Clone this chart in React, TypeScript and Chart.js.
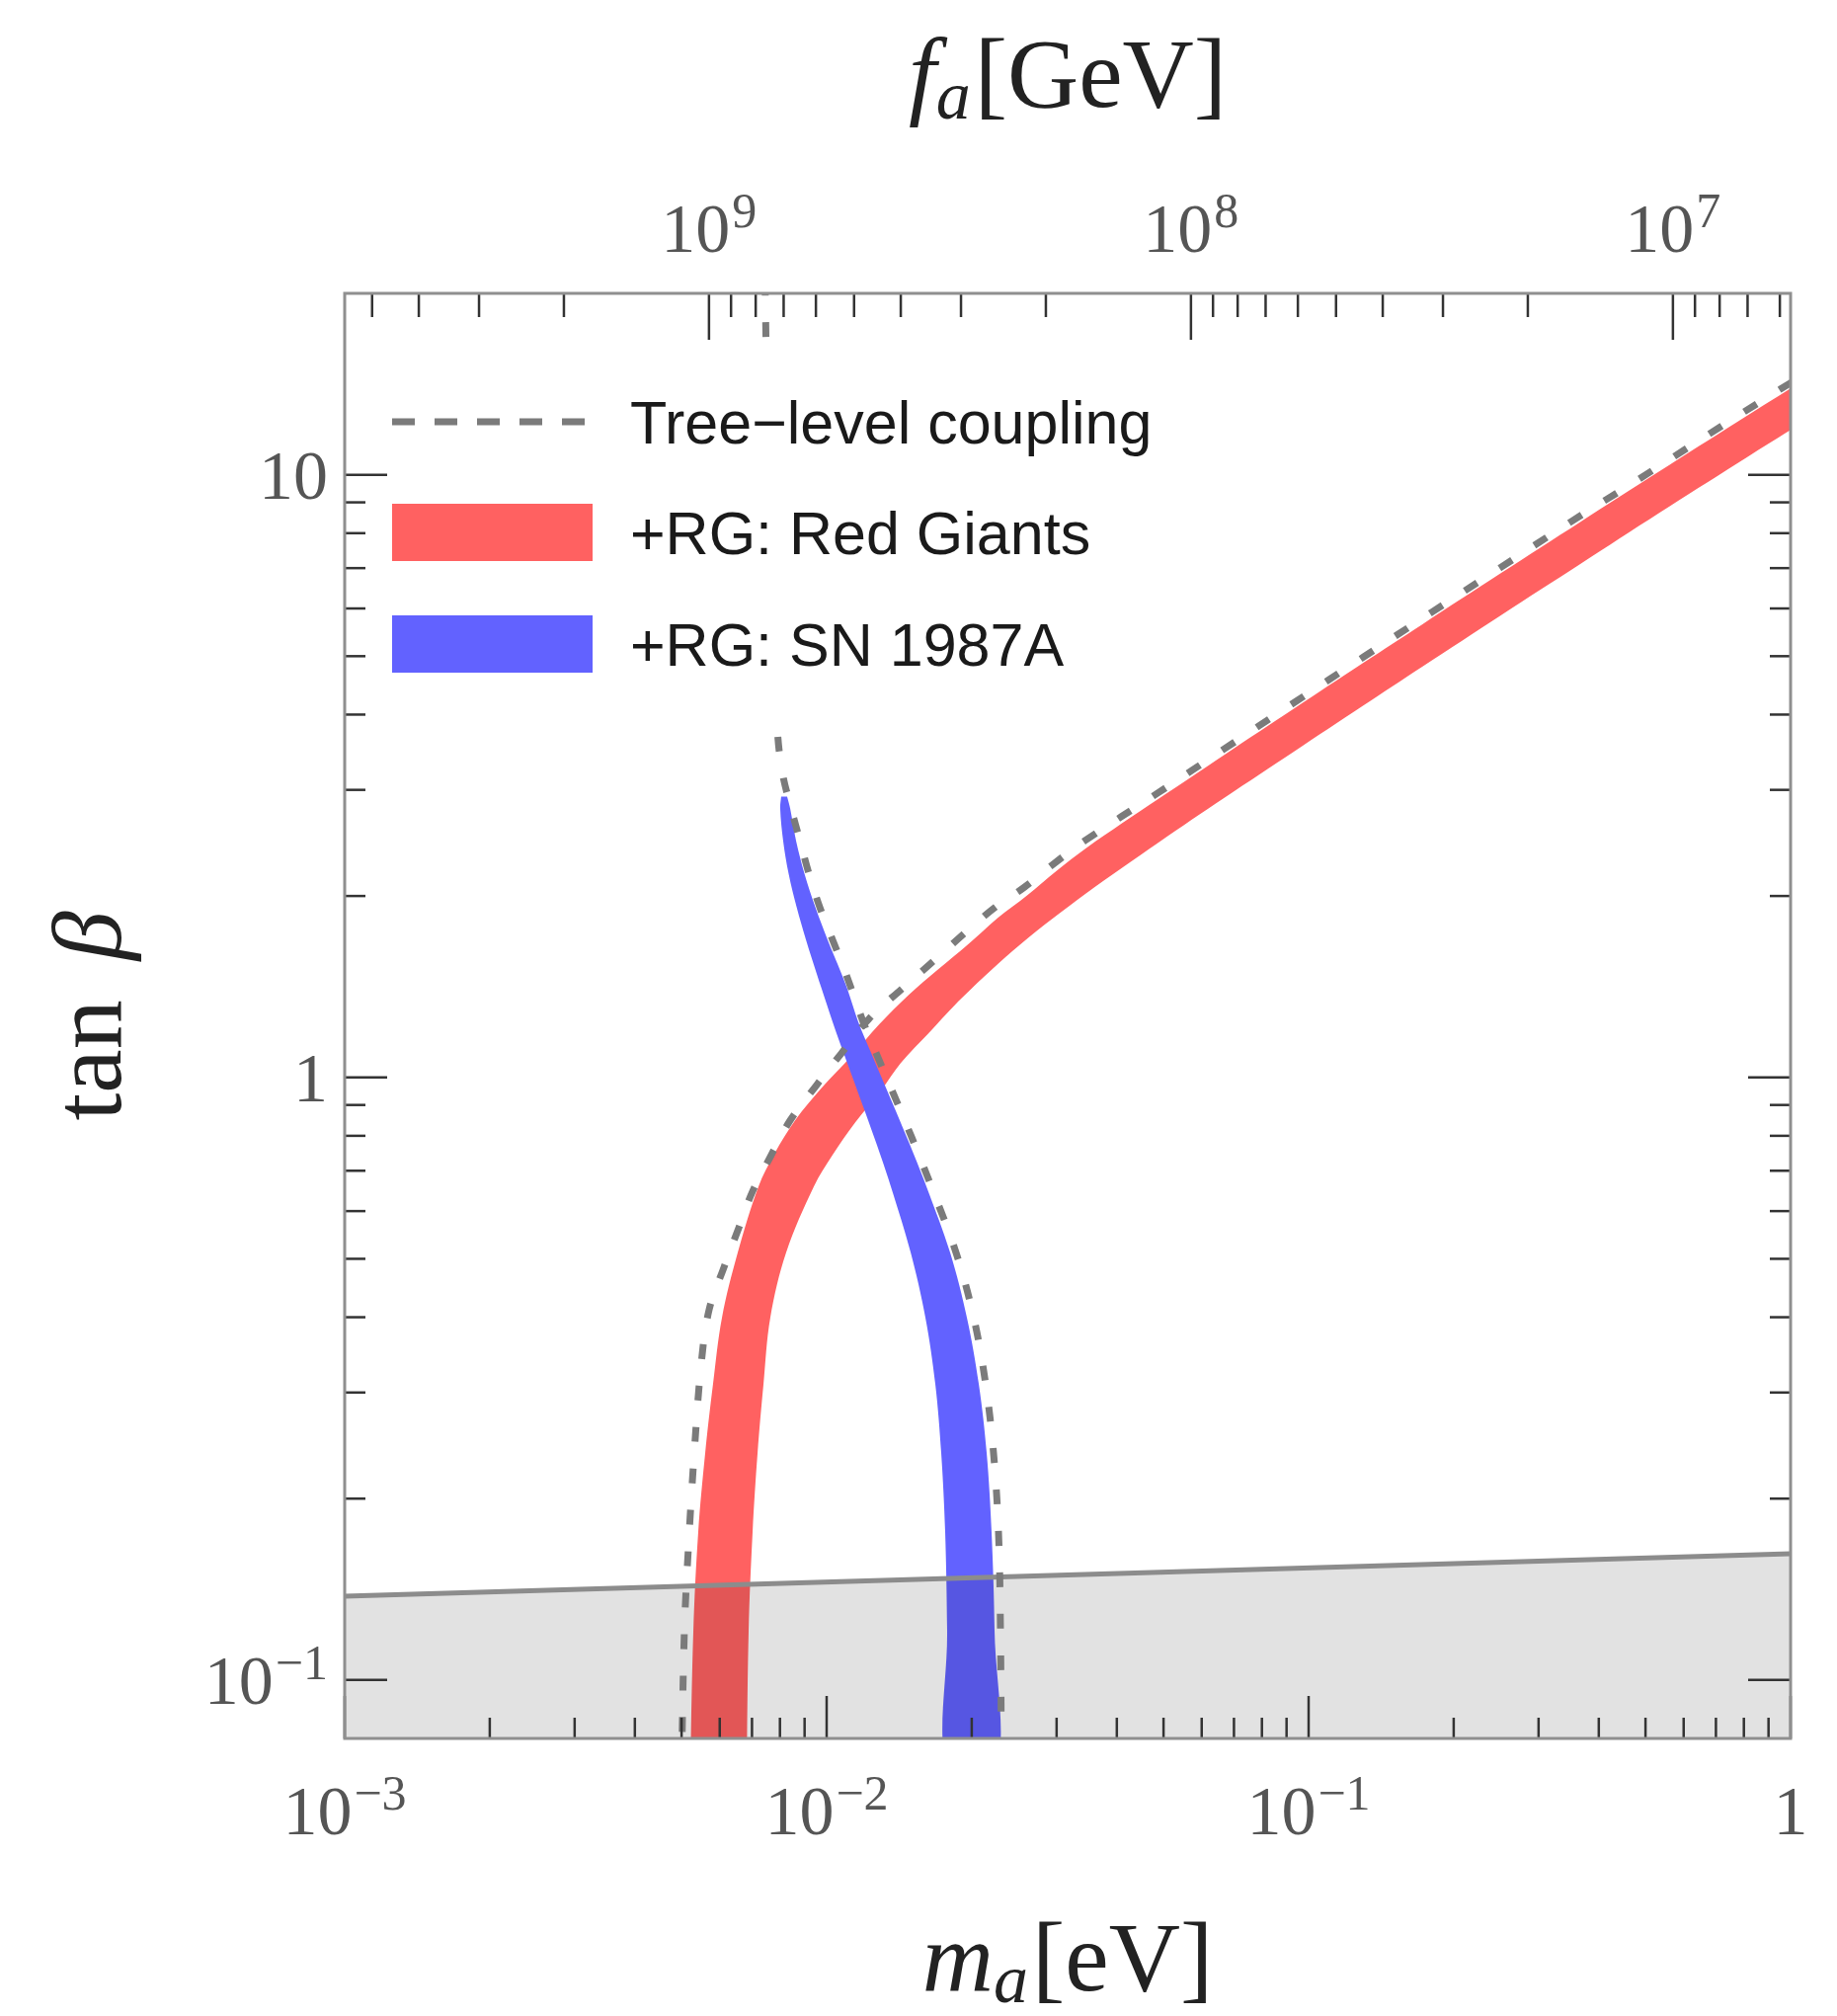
import React, { useEffect, useRef } from 'react';
import { Chart, registerables } from 'chart.js';

Chart.register(...registerables);

// ---------- data (m_a in eV, tan beta) ----------
const RED_BAND_OUTER: [number, number][] = [
  [0.00521, 0.07], [0.00529, 0.1208], [0.005415, 0.1761], [0.005598, 0.238],
  [0.005812, 0.31], [0.006065, 0.3993], [0.00654, 0.5121], [0.007222, 0.6592],
  [0.007789, 0.7465], [0.008601, 0.8487], [0.009768, 0.9612], [0.011252, 1.0844],
  [0.012842, 1.2235], [0.0148, 1.37], [0.017047, 1.5113], [0.019634, 1.661],
  [0.022619, 1.8386], [0.026061, 2.0053], [0.030026, 2.2034], [0.034584, 2.4033],
  [0.04881, 2.898], [0.06696, 3.433], [0.093176, 4.091], [0.129642, 4.87],
  [0.172067, 5.646], [0.25097, 6.871], [0.36616, 8.348], [0.53394, 10.125],
  [0.7788, 12.265], [1.0, 13.908], [1.15, 14.88],
];
const RED_BAND_INNER: [number, number][] = [
  [1.15, 12.69], [1.0, 11.87], [0.7788, 10.47], [0.53394, 8.643], [0.36616, 7.111],
  [0.25097, 5.852], [0.17207, 4.802], [0.12964, 4.137], [0.09318, 3.472],
  [0.06696, 2.913], [0.04881, 2.454], [0.034584, 2.021], [0.025213, 1.661],
  [0.019178, 1.36], [0.016262, 1.183], [0.014245, 1.056], [0.012963, 0.9504],
  [0.011468, 0.8424], [0.010287, 0.7436], [0.009406, 0.6592], [0.008241, 0.5121],
  [0.00764, 0.3993], [0.007396, 0.31], [0.007189, 0.238], [0.00702, 0.1761],
  [0.006889, 0.1208], [0.006823, 0.07],
];
const BLUE_BAND_LEFT: [number, number][] = [
  [0.008047, 2.924], [0.00801, 2.795], [0.008125, 2.468], [0.008339, 2.179],
  [0.008663, 1.917], [0.00906, 1.692], [0.009517, 1.494], [0.009768, 1.402],
  [0.010287, 1.237], [0.010886, 1.0885], [0.011523, 0.9612], [0.012193, 0.8487],
  [0.012904, 0.7465], [0.013589, 0.6592], [0.01494, 0.5121], [0.01603, 0.3993],
  [0.016804, 0.31], [0.017287, 0.238], [0.017617, 0.1761], [0.017783, 0.1208],
  [0.017865, 0.07],
];
const BLUE_BAND_RIGHT: [number, number][] = [
  [0.022406, 0.07], [0.022303, 0.1208], [0.021987, 0.1761], [0.021478, 0.238],
  [0.020682, 0.31], [0.019543, 0.3993], [0.018035, 0.5121], [0.016106, 0.6592],
  [0.015151, 0.7465], [0.014179, 0.8487], [0.013274, 0.9612], [0.012425, 1.0885],
  [0.011628, 1.237], [0.011041, 1.402], [0.010708, 1.494], [0.010046, 1.692],
  [0.009471, 1.917], [0.008994, 2.179], [0.008643, 2.468], [0.008401, 2.795],
  [0.008279, 2.924],
];
const RED_TREE_LEVEL: [number, number][] = [
  [0.004997, 0.07], [0.005068, 0.1208], [0.005164, 0.1651], [0.005312, 0.238],
  [0.005491, 0.3343], [0.005703, 0.4115], [0.006122, 0.4838], [0.00657, 0.5626],
  [0.00702, 0.6469], [0.00764, 0.7381], [0.008401, 0.8487], [0.009539, 0.9721],
  [0.010733, 1.0967], [0.012249, 1.2515], [0.01431, 1.4018], [0.016804, 1.569],
  [0.019361, 1.7378], [0.022406, 1.9171], [0.025692, 2.0667], [0.029601, 2.2623],
  [0.034258, 2.4678], [0.04881, 2.969], [0.06696, 3.512], [0.09318, 4.184],
  [0.12964, 4.977], [0.18034, 5.919], [0.25097, 7.028], [0.34914, 8.345],
  [0.48584, 9.849], [0.67576, 11.67], [0.95389, 13.88], [1.15, 15.19],
];
const SN_TREE_LEVEL: [number, number][] = [
  [0.00745, 21], [0.007534, 12.49], [0.007677, 7.096], [0.007898, 3.808],
  [0.008087, 3.214], [0.008439, 2.795], [0.008807, 2.468], [0.009186, 2.179],
  [0.009676, 1.917], [0.010287, 1.692], [0.010936, 1.494], [0.011904, 1.237],
  [0.012722, 1.0885], [0.013589, 0.9612], [0.014516, 0.8487], [0.015506, 0.7465],
  [0.016489, 0.6592], [0.018554, 0.5121], [0.020197, 0.3993], [0.021375, 0.31],
  [0.022196, 0.238], [0.022728, 0.1761], [0.022943, 0.1208], [0.023049, 0.07],
];
const EXCLUDED_EDGE: [number, number][] = [[0.001, 0.1377], [1, 0.162]];

// axes
const X_MIN = 0.001;
const X_MAX = 1;
const Y_MIN = 0.08;
const Y_MAX = 20;
const FA_TIMES_MA = 5.7e6; // GeV * eV
const X_MAJOR = [0.001, 0.01, 0.1, 1];
const X_MINOR = [0.002, 0.003, 0.004, 0.005, 0.006, 0.007, 0.008, 0.009,
  0.02, 0.03, 0.04, 0.05, 0.06, 0.07, 0.08, 0.09,
  0.2, 0.3, 0.4, 0.5, 0.6, 0.7, 0.8, 0.9];
const X_TICK_LABELS = ['10^−3', '10^−2', '10^−1', '1'];
const Y_MAJOR = [0.1, 1, 10];
const Y_MINOR = [0.2, 0.3, 0.4, 0.5, 0.6, 0.7, 0.8, 0.9, 2, 3, 4, 5, 6, 7, 8, 9];
const Y_TICK_LABELS = ['10^−1', '1', '10'];
const FA_MAJOR = [1e9, 1e8, 1e7];
const FA_MINOR = [5e9, 4e9, 3e9, 2e9, 9e8, 8e8, 7e8, 6e8, 5e8, 4e8, 3e8, 2e8,
  9e7, 8e7, 7e7, 6e7, 5e7, 4e7, 3e7, 2e7, 9e6, 8e6, 7e6, 6e6];
const FA_TICK_LABELS = ['10^9', '10^8', '10^7'];
const LEGEND_LABELS = ['Tree−level coupling', '+RG: Red Giants', '+RG: SN 1987A'];

const RED = '#ff6161';
const BLUE = '#6262ff';
const DASH_GRAY = '#7b7b7b';
const SERIF = '"Liberation Serif", "DejaVu Serif", serif';
const SANS = '"Liberation Sans", Arial, sans-serif';

const toXY = (arr: [number, number][]) => arr.map(([x, y]) => ({ x, y }));

function drawPow(ctx: CanvasRenderingContext2D, label: string, x: number, baseline: number, align: 'center' | 'right') {
  const [base, exp] = label.split('^');
  const bf = `70px ${SERIF}`;
  const ef = `50px ${SERIF}`;
  ctx.font = bf;
  const wb = ctx.measureText(base).width;
  let we = 0;
  if (exp) {
    ctx.font = ef;
    we = ctx.measureText(exp).width + 2;
  }
  const total = wb + we;
  const left = align === 'center' ? x - total / 2 : x - total;
  ctx.textAlign = 'left';
  ctx.textBaseline = 'alphabetic';
  ctx.font = bf;
  ctx.fillText(base, left, baseline);
  if (exp) {
    ctx.font = ef;
    ctx.fillText(exp, left + wb + 2, baseline - 25);
  }
}

function drawTitle(ctx: CanvasRenderingContext2D, sym: string, sub: string, unit: string, cx: number, baseline: number) {
  const f1 = `italic 100px ${SERIF}`;
  const f2 = `italic 70px ${SERIF}`;
  const f3 = `100px ${SERIF}`;
  ctx.font = f1; const w1 = ctx.measureText(sym).width;
  ctx.font = f2; const w2 = ctx.measureText(sub).width;
  ctx.font = f3; const w3 = ctx.measureText(unit).width;
  const gap = 4;
  let x = cx - (w1 + w2 + w3 + gap) / 2;
  ctx.textAlign = 'left';
  ctx.textBaseline = 'alphabetic';
  ctx.font = f1; ctx.fillText(sym, x, baseline); x += w1;
  ctx.font = f2; ctx.fillText(sub, x, baseline + 12); x += w2 + gap;
  ctx.font = f3; ctx.fillText(unit, x, baseline);
}

const decoPlugin = {
  id: 'deco',
  afterDatasetsDraw(chart: any) {
    const { ctx, chartArea: a, scales } = chart;
    const xs = scales.x, ys = scales.y, xt = scales.xTop;
    ctx.save();
    // legend
    ctx.fillStyle = '#ffffff';
    ctx.fillRect(396, 365, 794, 357);
    ctx.strokeStyle = DASH_GRAY;
    ctx.lineWidth = 7;
    ctx.setLineDash([23, 20]);
    ctx.beginPath(); ctx.moveTo(397, 427); ctx.lineTo(600, 427); ctx.stroke();
    ctx.setLineDash([]);
    ctx.fillStyle = RED; ctx.fillRect(397, 510, 203, 58);
    ctx.fillStyle = BLUE; ctx.fillRect(397, 623, 203, 58);
    ctx.fillStyle = '#1a1a1a';
    ctx.font = `61px ${SANS}`;
    ctx.textAlign = 'left';
    ctx.textBaseline = 'alphabetic';
    const bl = [449, 561, 674];
    LEGEND_LABELS.forEach((t, i) => ctx.fillText(t, 638, bl[i]));

    // ticks
    ctx.strokeStyle = '#333333';
    ctx.lineWidth = 2.5;
    const MAJ = 43, MIN = 21;
    const vtick = (px: number, len: number) => {
      ctx.beginPath(); ctx.moveTo(px, a.bottom); ctx.lineTo(px, a.bottom - len); ctx.stroke();
    };
    const ttick = (px: number, len: number) => {
      ctx.beginPath(); ctx.moveTo(px, a.top); ctx.lineTo(px, a.top + len); ctx.stroke();
    };
    const htick = (py: number, len: number) => {
      ctx.beginPath(); ctx.moveTo(a.left, py); ctx.lineTo(a.left + len, py); ctx.stroke();
      ctx.beginPath(); ctx.moveTo(a.right, py); ctx.lineTo(a.right - len, py); ctx.stroke();
    };
    X_MAJOR.forEach(v => vtick(xs.getPixelForValue(v), MAJ));
    X_MINOR.forEach(v => vtick(xs.getPixelForValue(v), MIN));
    FA_MAJOR.forEach(v => ttick(xt.getPixelForValue(v), MAJ + 4));
    FA_MINOR.forEach(v => ttick(xt.getPixelForValue(v), MIN + 3));
    Y_MAJOR.forEach(v => htick(ys.getPixelForValue(v), MAJ));
    Y_MINOR.forEach(v => htick(ys.getPixelForValue(v), MIN));

    // frame
    ctx.strokeStyle = '#8f8f8f';
    ctx.lineWidth = 3;
    ctx.strokeRect(a.left, a.top, a.right - a.left, a.bottom - a.top);
    ctx.restore();
  },
  afterDraw(chart: any) {
    const { ctx, chartArea: a, scales } = chart;
    const xs = scales.x, ys = scales.y, xt = scales.xTop;
    ctx.save();
    ctx.fillStyle = '#555555';
    X_MAJOR.forEach((v, i) => drawPow(ctx, X_TICK_LABELS[i], xs.getPixelForValue(v), a.bottom + 97, 'center'));
    FA_MAJOR.forEach((v, i) => drawPow(ctx, FA_TICK_LABELS[i], xt.getPixelForValue(v), a.top - 42, 'center'));
    Y_MAJOR.forEach((v, i) => drawPow(ctx, Y_TICK_LABELS[i], a.left - 17, ys.getPixelForValue(v) + 24, 'right'));

    ctx.fillStyle = '#222222';
    const cx = (a.left + a.right) / 2;
    drawTitle(ctx, 'f', 'a', '[GeV]', cx, 108);
    drawTitle(ctx, 'm', 'a', '[eV]', cx, 2015);
    // left title
    const cy = (a.top + a.bottom) / 2;
    ctx.translate(122, cy);
    ctx.rotate(-Math.PI / 2);
    ctx.font = `100px ${SERIF}`;
    const w1 = ctx.measureText('tan').width;
    ctx.font = `italic 100px ${SERIF}`;
    const w2 = ctx.measureText('β').width;
    const gap = 40;
    let x = -(w1 + gap + w2) / 2;
    ctx.textAlign = 'left';
    ctx.textBaseline = 'alphabetic';
    ctx.font = `100px ${SERIF}`;
    ctx.fillText('tan', x, 0);
    x += w1 + gap;
    ctx.font = `italic 100px ${SERIF}`;
    ctx.fillText('β', x, 0);
    ctx.restore();
  },
};

export default function App() {
  const ref = useRef<HTMLCanvasElement>(null);
  useEffect(() => {
    if (!ref.current) return;
    const chart = new Chart(ref.current, {
      type: 'scatter',
      data: {
        datasets: [
          {
            label: LEGEND_LABELS[0], data: toXY(RED_TREE_LEVEL), showLine: true,
            borderColor: DASH_GRAY, borderWidth: 7, borderDash: [15, 27], borderCapStyle: 'butt',
            pointRadius: 0, fill: false, order: 0, clip: 0,
          } as any,
          {
            label: LEGEND_LABELS[0] + ' SN', data: toXY(SN_TREE_LEVEL), showLine: true,
            borderColor: DASH_GRAY, borderWidth: 7, borderDash: [15, 27], borderCapStyle: 'butt',
            pointRadius: 0, fill: false, order: 0, clip: 0,
          } as any,
          {
            label: 'excluded', data: toXY(EXCLUDED_EDGE), showLine: true,
            borderColor: '#8c8c8c', borderWidth: 5, backgroundColor: 'rgba(0,0,0,0.115)',
            pointRadius: 0, fill: 'start', order: 1, clip: 0, tension: 0,
          } as any,
          {
            label: LEGEND_LABELS[2], data: toXY([...BLUE_BAND_LEFT, ...BLUE_BAND_RIGHT]), showLine: true,
            borderWidth: 0, borderColor: 'rgba(0,0,0,0)', backgroundColor: BLUE,
            pointRadius: 0, fill: 'shape', order: 2, clip: 0,
          } as any,
          {
            label: LEGEND_LABELS[1], data: toXY([...RED_BAND_OUTER, ...RED_BAND_INNER]), showLine: true,
            borderWidth: 0, borderColor: 'rgba(0,0,0,0)', backgroundColor: RED,
            pointRadius: 0, fill: 'shape', order: 3, clip: 0,
          } as any,
        ],
      },
      options: {
        responsive: false,
        maintainAspectRatio: false,
        devicePixelRatio: 1,
        animation: false,
        layout: { padding: { left: 349, right: 47, top: 297, bottom: 281 } },
        elements: { line: { tension: 0.35, capBezierPoints: false }, point: { radius: 0 } },
        plugins: { legend: { display: false }, tooltip: { enabled: false }, title: { display: false } },
        scales: {
          x: { type: 'logarithmic', min: X_MIN, max: X_MAX, display: false },
          y: { type: 'logarithmic', min: Y_MIN, max: Y_MAX, display: false },
          xTop: {
            type: 'logarithmic', axis: 'x', position: 'top', reverse: true,
            min: FA_TIMES_MA / X_MAX, max: FA_TIMES_MA / X_MIN, display: false,
          },
        },
      } as any,
      plugins: [decoPlugin as any],
    });
    return () => chart.destroy();
  }, []);
  return (
    <div style={{ position: 'absolute', left: 0, top: 0, width: 1860, height: 2041, background: '#ffffff' }}>
      <canvas ref={ref} width={1860} height={2041} style={{ display: 'block', width: 1860, height: 2041 }} />
    </div>
  );
}
